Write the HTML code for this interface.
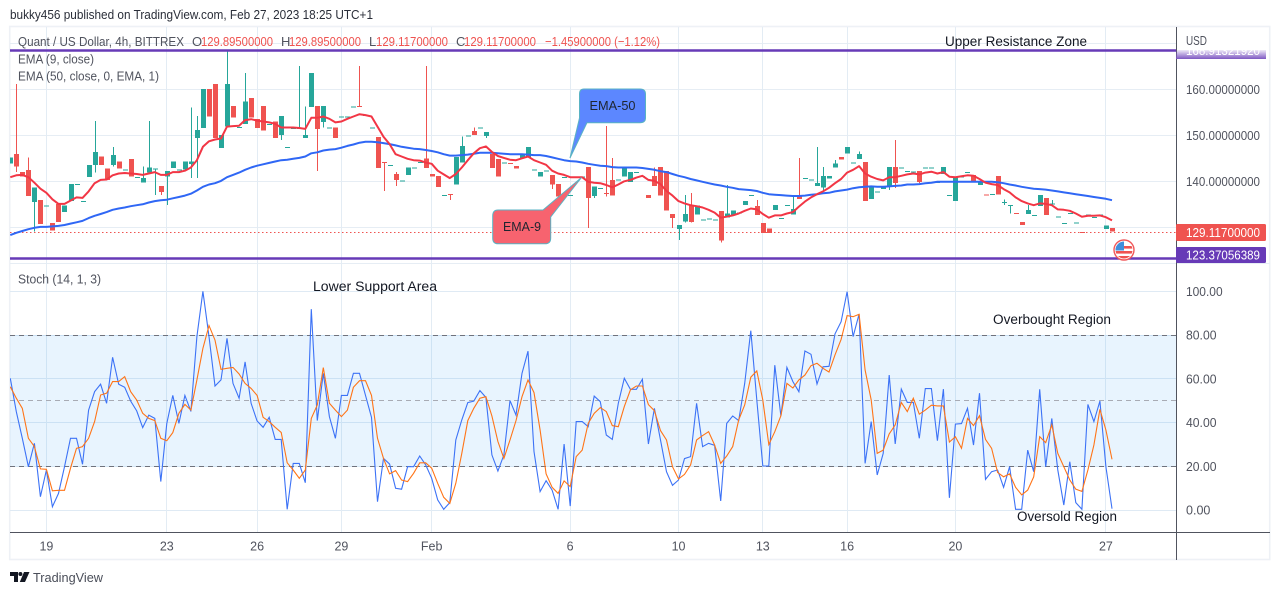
<!DOCTYPE html>
<html lang="en">
<head>
<meta charset="utf-8">
<title>Quant / US Dollar chart</title>
<style>
html,body{margin:0;padding:0;background:#fff;width:1280px;height:595px;overflow:hidden}
svg{display:block;font-family:"Liberation Sans",sans-serif}
</style>
</head>
<body>
<svg id="chart" xmlns="http://www.w3.org/2000/svg" width="1280" height="595" viewBox="0 0 1280 595">
  <defs>
    <clipPath id="plot-clip"><rect x="10" y="27" width="1166" height="505"/></clipPath>
    <clipPath id="top-label-clip"><rect x="1176" y="50" width="92" height="9"/></clipPath>
    <clipPath id="flag-clip"><circle cx="1124" cy="250" r="8.5"/></clipPath>
    <linearGradient id="top-label-fade" x1="0" y1="0" x2="0" y2="1">
      <stop offset="0" stop-color="#7e57c2" stop-opacity="0.12"/>
      <stop offset="1" stop-color="#7e57c2" stop-opacity="1"/>
    </linearGradient>
  </defs>

  <rect x="0" y="0" width="1280" height="595" fill="#fff"/>
  <text x="10" y="19" font-size="13" fill="#2a2e39" textLength="363" lengthAdjust="spacingAndGlyphs">bukky456 published on TradingView.com, Feb 27, 2023 18:25 UTC+1</text>
  <rect x="9.7" y="26.5" width="1260" height="533" fill="none" stroke="#eef1f6" stroke-width="1.6"/>

  <g id="grid"></g>
  <rect x="10" y="335" width="1166" height="131.5" fill="#2196f3" fill-opacity="0.1"/>
  <g id="stoch-levels"></g>

  <g clip-path="url(#plot-clip)">
    <line x1="10" y1="232.5" x2="1176" y2="232.5" stroke="#ef5350" stroke-width="1" stroke-dasharray="1.5 2.5"/>
    <g id="candles"></g>
    <polyline id="ema50" fill="none" stroke="#2f67f5" stroke-width="2" stroke-linejoin="round"/>
    <polyline id="ema9" fill="none" stroke="#f23645" stroke-width="2" stroke-linejoin="round"/>
    <polyline id="stochK" fill="none" stroke="#3c72f6" stroke-width="1.1"/>
    <polyline id="stochD" fill="none" stroke="#ff7417" stroke-width="1.1"/>
  </g>

  <line x1="10" y1="50.5" x2="1176" y2="50.5" stroke="#673ab7" stroke-width="2.6"/>
  <line x1="10" y1="258.5" x2="1176" y2="258.5" stroke="#673ab7" stroke-width="2.6"/>

  <g>
    <path d="M584 89 H640 Q645.5 89 645.5 94 V118 Q645.5 122.7 640 122.7 H587 L570 158 L579.5 118 V94 Q579.5 89 584 89 Z" fill="#5c87ff" stroke="#59b3c4" stroke-width="1"/>
    <text x="612.5" y="110" font-size="13" fill="#1e2530" text-anchor="middle" textLength="46" lengthAdjust="spacingAndGlyphs">EMA-50</text>
  </g>
  <g>
    <path d="M498 210 H543 L581.5 177.5 L550.7 217 V238 Q550.7 243.8 545 243.8 H498 Q492.7 243.8 492.7 238 V216 Q492.7 210 498 210 Z" fill="#f7636f" stroke="#59b3c4" stroke-width="1"/>
    <text x="522" y="231" font-size="13" fill="#1e2530" text-anchor="middle" textLength="38" lengthAdjust="spacingAndGlyphs">EMA-9</text>
  </g>

  <g font-size="13">
    <text x="18" y="46" fill="#50535e" textLength="166" lengthAdjust="spacingAndGlyphs">Quant / US Dollar, 4h, BITTREX</text>
    <text x="192" y="46" fill="#50535e">O</text>
    <text x="201" y="46" fill="#ef5350" textLength="72" lengthAdjust="spacingAndGlyphs">129.89500000</text>
    <text x="281" y="46" fill="#50535e">H</text>
    <text x="289" y="46" fill="#ef5350" textLength="72" lengthAdjust="spacingAndGlyphs">129.89500000</text>
    <text x="369" y="46" fill="#50535e">L</text>
    <text x="376" y="46" fill="#ef5350" textLength="72" lengthAdjust="spacingAndGlyphs">129.11700000</text>
    <text x="456" y="46" fill="#50535e">C</text>
    <text x="464" y="46" fill="#ef5350" textLength="72" lengthAdjust="spacingAndGlyphs">129.11700000</text>
    <text x="545" y="46" fill="#ef5350" textLength="115" lengthAdjust="spacingAndGlyphs">−1.45900000 (−1.12%)</text>
    <text x="18" y="63.5" fill="#50535e" textLength="76" lengthAdjust="spacingAndGlyphs">EMA (9, close)</text>
    <text x="18" y="80.5" fill="#50535e" textLength="141" lengthAdjust="spacingAndGlyphs">EMA (50, close, 0, EMA, 1)</text>
    <text x="18" y="283.5" fill="#50535e" textLength="83" lengthAdjust="spacingAndGlyphs">Stoch (14, 1, 3)</text>
  </g>

  <g font-size="13.5" fill="#131722">
    <text x="945" y="46" textLength="142" lengthAdjust="spacingAndGlyphs">Upper Resistance Zone</text>
    <text x="313" y="291" textLength="124" lengthAdjust="spacingAndGlyphs">Lower Support Area</text>
    <text x="993" y="324" textLength="118" lengthAdjust="spacingAndGlyphs">Overbought Region</text>
    <text x="1017" y="521" textLength="100" lengthAdjust="spacingAndGlyphs">Oversold Region</text>
  </g>

  <line x1="10" y1="532.5" x2="1270" y2="532.5" stroke="#50535e" stroke-width="1"/>
  <line x1="1176.5" y1="27" x2="1176.5" y2="560" stroke="#50535e" stroke-width="1"/>
  <g id="price-axis"></g>
  <g id="time-axis"></g>

  <text x="1186" y="45" font-size="12.5" fill="#50535e" textLength="21" lengthAdjust="spacingAndGlyphs">USD</text>

  <g>
    <rect x="1176" y="50" width="90" height="9" fill="url(#top-label-fade)"/>
    <g clip-path="url(#top-label-clip)">
      <text x="1186" y="55" font-size="12.5" fill="#fff" textLength="74" lengthAdjust="spacingAndGlyphs">168.91321920</text>
    </g>
  </g>
  <g>
    <rect x="1176" y="224" width="90" height="17" rx="1.5" fill="#ef5350"/>
    <text x="1186" y="237" font-size="12.5" fill="#fff" textLength="74" lengthAdjust="spacingAndGlyphs">129.11700000</text>
  </g>
  <g>
    <rect x="1176" y="247" width="90" height="16" rx="1.5" fill="#673ab7"/>
    <text x="1186" y="259.5" font-size="12.5" fill="#fff" textLength="74" lengthAdjust="spacingAndGlyphs">123.37056389</text>
  </g>

  <g>
    <circle cx="1124" cy="250" r="10" fill="#fff" stroke="#f0585a" stroke-width="1.4"/>
    <g clip-path="url(#flag-clip)">
      <rect x="1114" y="241" width="20" height="18" fill="#fff"/>
      <rect x="1114" y="246" width="20" height="2.6" fill="#ef5350"/>
      <rect x="1114" y="251" width="20" height="2.6" fill="#ef5350"/>
      <rect x="1114" y="256" width="20" height="3" fill="#ef5350"/>
      <rect x="1114" y="241" width="10" height="9.5" fill="#3f8fdc"/>
    </g>
  </g>

  <g>
    <g fill="#131722">
      <path d="M10 572 H18 V582 H14 V576 H10 Z"/>
      <circle cx="20.4" cy="574" r="2"/>
      <path d="M24 572 H29.5 L25 582 H19.8 Z"/>
    </g>
    <text x="33" y="582" font-size="13" fill="#4a4e59" textLength="70" lengthAdjust="spacingAndGlyphs">TradingView</text>
  </g>
</svg>

<script>
const opens = [
143.9,145.9,142,142.5,135.5,135.9,134.8,130.9,135.1,133.3,
135.7,139.4,135.7,140.9,143.5,145.4,142.8,143.5,144.3,142.6,
144.9,140.9,139.7,141.9,142.8,139,141,142.9,142.6,142.6,
143.8,149.4,151.6,160.1,161.2,147.2,151.9,156.4,151.8,152.5,
158.1,153.5,156.4,152.5,153,150.1,147.5,151.6,151.6,149.4,
156.2,156.4,152.9,151.7,151.7,154.1,154.1,156.3,156.4,154.4,
151.7,149.6,144.2,143.5,141.6,140.2,141.4,143,144.2,145,
141.6,141.2,137,137.2,139.3,144.1,150,150.9,151.7,149.9,
145.9,144.9,144.1,144,143.3,145,145.2,142.6,141,142.4,
141.4,139.4,140.9,137,141,141,143.1,136.8,138.6,137.5,
140.3,140.4,141,139.9,142,141.2,137,141.2,143.1,142.2,
132.9,129.6,131.3,134.8,132.8,131.7,131.9,131.7,133.6,132.1,
132.6,133.2,134.9,137,134.6,130.9,129.8,133.8,132,134.9,
132.8,137,140.7,140.4,139,138.7,140.6,143,145.3,146,
144.1,144.9,144.2,136.2,137.8,138.3,138.8,143.1,143,142.3,
142.1,142.2,143,143,139.9,141.6,137,135.7,141,142,
141.4,139.2,137.1,137.2,141.2,135.5,134.9,133.1,131.2,132.9,
132.7,134.6,136.4,135.2,132.4,130.9,133.1,131.1,129,132.8,
132.2,132.8,129.6,129.895];
const highs = [
145.2,161.2,142,145.2,138.7,135.9,134.8,130.9,135.1,134.8,
139.4,139.4,135.7,143.5,153.1,145.4,142.8,147.5,144.3,142.6,
144.9,140.9,143.2,153.1,142.8,139,142.2,144.3,142.6,144.3,
156.1,154.2,160.1,160.1,161.2,150.1,168.2,156.4,151.8,163.5,
158.1,153.5,156.4,152.5,153,154.2,147.5,151.6,165.1,156.3,
163.6,156.4,156.4,151.7,151.7,154.1,154.1,156.3,165.1,154.4,
151.7,149.6,144.2,143.5,142,140.2,143,143,144.2,165.1,
141.6,141.2,137,137.2,145.3,149.7,150,151.7,151.7,150.7,
145.9,144.9,144.1,144,143.3,145.9,147.5,142.6,142,142.4,
141.4,139.4,140.9,137,141,141,143.1,138.9,138.6,152,
145.1,140.4,143,142,142,141.2,137,143,143.1,142.2,
132.9,130.5,137,137.5,134.8,131.7,131.9,131.7,133.6,139.2,
133.7,133.2,135.7,137,135.9,130.9,129.8,134.9,132,134.9,
136.9,145.1,140.7,140.4,147.5,143.1,141.2,144.6,145.3,147.5,
144.1,146.5,144.2,138.7,137.8,138.9,143.1,149,143,142.3,
142.1,142.2,143,143,139.9,143.1,137,140.9,141,142,
141.4,139.9,137.1,137.2,141.2,136.1,134.9,133.1,131.2,134.9,
132.7,137,136.4,135.9,132.4,130.9,133.1,131.1,129,132.8,
132.2,132.8,130.4,129.895];
const lows = [
143.9,142,141,136.8,129.1,130.7,134.8,129.3,131.2,133.3,
135.7,139.4,135.7,140.9,141.9,143.5,140.3,143.2,142.8,142.6,
141,140.9,139.7,141.9,137,137,134.9,142.9,142.6,142.6,
140.7,140.7,151.6,154.1,149.4,147.2,151.9,153.9,151.8,152.5,
153.9,151.6,151,152.5,149.4,149,147.5,151.6,151.6,149.4,
156.2,142.2,151.7,151.7,149.4,154.1,154.1,156.3,156.3,154.4,
151.7,142.9,137.9,143.5,139,140.2,141.4,143,144.2,142.9,
141,138.8,137,135.9,139.3,144.1,150,150.1,151.7,149.4,
142.9,141,144.1,143.9,142.8,145,145.2,142.6,141,142.4,
138.3,136.7,140.9,137,141,141,129.9,136.4,138.6,136.7,
136.9,140.4,141,139.9,142,141.2,136.4,139,136.9,133.7,
129.9,127.2,131,131,132.8,131.7,131.9,131.7,126.7,132.1,
132.6,133.2,134.9,137,132.7,128.8,128.8,133.8,132,134.9,
132.8,136.2,140.7,140.4,139,138,140.6,143,144.7,146,
144.1,144.9,135.7,136.2,137.8,138.3,138.1,138.6,143,142.3,
142.1,139.6,143,143,139.9,141.6,137,135.7,141,142,
139.7,139.2,137,137.2,137.1,134.9,133,133,130.5,132.9,
132.7,134.6,132.7,135.2,132.4,130.9,133.1,131.1,128.9,132.8,
132.2,132.8,129.6,129.117];
const closes = [
145.2,143.2,141,136.8,138.7,130.7,134.8,129.3,131.2,134.8,
139.4,139.4,135.7,143.5,146.4,143.5,140.3,145.7,142.8,142.6,
141,140.9,140.7,143,142.8,137.7,142.2,144.3,142.6,144.3,
144.3,151.2,160.1,154.1,149.4,150.1,161.2,153.9,151.8,157.4,
153.9,151.6,151,152.5,149.4,154.2,147.5,151.6,151.6,150.1,
163.6,151.4,156.4,151.7,149.4,154.1,154.1,156.3,156.3,154.4,
151.7,142.9,144.1,143.5,140.3,140.2,143,143,144.2,142.9,
141,138.8,137,137.1,145.3,147.7,150,150.1,151.7,150.7,
142.9,141,144.1,143.9,142.8,145.9,147.5,142.6,142,142.4,
139.3,136.7,140.9,137,141,141,136.4,138.9,138.6,137.2,
136.9,140.4,143,142,142,141.2,136.4,139,136.9,133.7,
132,130.5,132.9,131.2,134.8,131.7,131.9,131.7,127.1,133,
133.7,133.2,135.7,137,132.7,128.8,128.8,134.9,132,134.9,
134,136.2,140.7,140.4,139.6,141.2,141.2,143.9,144.7,147.5,
144.1,145.9,135.7,138.7,137.8,138.9,143.1,139.6,143,142.3,
142.1,139.9,143,143,139.9,143.1,137,140.9,141,142,
139.7,139.9,137,137.2,137.1,135.5,134.9,133,130.5,133.8,
132.7,137,132.7,135.2,132.4,130.9,133.1,131.1,128.9,132.8,
132.2,132.8,130.4,129.117];
const ema9Values = [
140.9,141.3,141.4,140.9,139.7,138.4,137.5,136.1,135.1,135.1,
135.8,136.5,136.4,137.8,139.6,140.3,140.4,141.3,141.7,141.8,
141.7,141.6,141.4,141.7,142,141.4,141.4,142,142,142.3,
143,144.6,147.5,148.7,149.1,149.3,151.9,152,152.1,153.3,
153.5,153.2,153,152.8,152.5,151.7,151.7,151.7,151.6,151.4,
153.8,153.8,154.1,153.6,152.8,153,153.6,154.1,154.6,154.4,
154.1,151.9,149.7,148.1,145.9,145.4,144.9,144.6,144.5,144.1,
143.8,142.3,141.5,140.7,141.6,143,144.6,146.1,147.2,147.6,
146.4,145.5,145.1,144.7,144.6,145,145.4,144.6,144.1,143.6,
142.3,141.7,141.4,140.9,140.9,140.9,139.9,139.7,139.6,139.2,
138.7,139.3,140,140.3,140.8,141.2,140.3,140.1,139.4,137.9,
136.9,135.7,135.2,134.8,134.6,134.3,133.8,133.2,132.1,132.3,
132.6,133,133.6,134.1,133.9,132.9,132.1,132.6,132.6,133,
133.3,134.5,135.6,136.5,137.2,137.8,138.6,139.6,140.5,141.9,
142.5,143.3,141.7,141,140.5,140.2,140.9,140.9,141.2,141.5,
141.7,141.5,141.9,142.1,141.7,142,141,140.9,141.1,141.3,
141.2,140.5,139.7,139.4,139.2,138.3,137.6,136.5,135.7,135.2,
134.8,135.2,135.1,134.8,133.9,133.8,133.6,133,132.3,132.5,
132.5,132.6,132.2,131.5];
const ema50Values = [
128.3,128.8,129.2,129.6,129.9,130.1,130.1,130.2,130.3,130.5,
130.8,131.1,131.4,132,132.5,132.9,133.3,133.8,134.1,134.3,
134.6,134.8,135,135.4,135.7,135.9,136,136.3,136.6,136.9,
137.3,138,138.8,139.3,139.6,140.1,140.9,141.4,141.9,142.5,
143,143.4,143.7,144,144.3,144.6,144.7,144.9,145.1,145.4,
146.1,146.3,146.7,146.9,147,147.3,147.7,148,148.4,148.6,
148.6,148.5,148.3,148.1,147.8,147.5,147.3,147.1,147,146.8,
146.6,146.3,145.9,145.6,145.6,145.7,145.8,146,146.2,146.2,
146.2,146.1,146,145.9,145.9,145.9,145.8,145.7,145.7,145.5,
145.2,144.9,144.6,144.4,144.3,144.1,143.8,143.6,143.4,143.3,
143.1,143,143,143,143,142.9,142.7,142.5,142.2,142,
141.6,141.2,140.9,140.5,140.2,139.9,139.6,139.3,139.1,138.8,
138.6,138.3,138.2,138.1,137.9,137.5,137.2,137.1,137,136.9,
136.8,136.8,136.9,137.1,137.2,137.4,137.5,137.8,138,138.2,
138.5,138.7,138.8,138.9,138.8,138.8,138.9,139,139.1,139.3,
139.3,139.4,139.6,139.7,139.9,139.9,139.9,139.9,139.9,139.9,
139.9,139.9,139.9,139.9,139.8,139.6,139.3,139.1,138.8,138.6,
138.4,138.3,138.2,138,137.8,137.6,137.4,137.2,137,136.8,
136.6,136.4,136.2,135.9];
const stochKValues = [
60.2,45,32.8,19.8,30.5,6.1,18.3,1.5,7.6,19.8,
32.8,32.8,20.9,45.7,54.1,57.5,48.8,69.8,57.5,56.1,
49.8,45.3,37.7,43.4,41.9,13,39.6,52.4,39.6,52.4,
45.1,79.3,100,79.3,56.7,59.5,78.5,57.9,51.1,67.7,
48.8,40.7,37.8,42.4,32.3,32.3,0.3,21.3,21.3,12.5,
91.8,40.9,62.5,42.7,32.8,52.4,52.4,62.5,62.5,52.4,
42.4,3.8,23.6,21,9.9,9.5,19.8,19.8,24.7,20.6,
14.5,4.6,0.3,3.4,32,41.2,49.1,49.8,54.6,51.5,
25.2,17.8,25.2,50,43.4,62.5,72.6,26.7,8.4,13.4,
9.1,0.3,30.2,1.8,40.4,40.4,38.1,52.1,49.5,34.3,
32.3,48.8,60.2,55.2,55.2,59.8,30.2,46.5,32,17.5,
11.3,13.7,23.5,24.4,48.8,29,30.5,29.6,4.1,39.6,
43,40.9,57.9,82,50.3,20.1,20.1,66.2,43,65.2,
58.7,54.1,72.7,71.2,57.6,65.5,65.7,80.5,86.1,99.8,
79.3,89.6,21.3,40.4,16,25.9,61.7,30.2,55.3,49.2,
49.2,32.8,55.5,55.5,31.7,55.3,5.6,39.3,39.5,46.5,
29.7,53.4,14,17.5,18.3,10.4,19.8,0.3,0.3,27.4,
17.5,55.2,19.8,41.9,18.3,2.3,22.1,3.4,0.3,48.3,
40.4,49.8,19.8,0.6];
const stochDValues = [
56.4,51.1,46.5,32.8,29,18.8,18.6,8.8,9,9,
19.1,28.2,29,32.8,40.4,52.6,53.4,58.7,58.7,61,
54.1,50.3,44.2,41.9,40.9,32.8,31.7,35.4,44.2,48.3,
45.7,59.5,73.9,84.3,77.7,64.3,64.8,65.2,62.2,57.9,
55.6,52.4,42.4,40.4,37.8,35.5,21.6,18.3,14.5,18.3,
41.9,48,65.1,48.8,45.7,42.7,45.7,56.1,59.1,59.1,
52.4,32.8,23.6,16.5,18,13.7,13,16.8,21.6,21.6,
19.1,12.2,5.8,3,12.2,25.9,40.9,46.5,51.1,51.8,
43,31.3,23.6,32,40.9,51.8,59.5,53.7,36.6,16.5,
10.4,7.6,13.3,10.7,24.4,27.4,39.6,44.2,46.8,45,
38.6,38.1,47.3,54.9,56.7,56.7,48.2,45.4,36.3,32,
19.8,14.2,16.3,20.6,32,34,35.8,29.7,21.3,24.7,
29,41.2,48,60.7,63.6,50.3,29.9,35.8,43.1,57.9,
55.8,59.5,61.7,66,67.1,64.8,63.1,70.9,78,88.9,
88.4,89.5,64,50.3,25.9,27.4,34.8,38.9,49.2,45,
51.1,43.8,45.7,47.9,47.6,47.6,31.1,33.5,28.2,41.9,
38.6,43.1,32.3,28.2,17.2,15.2,16.5,10.4,6.9,9.1,
15.2,33.5,30.8,38.9,25.9,19.8,13.7,9.5,8.5,18.3,
29.7,46,36.6,23.2];
const priceTicks = [130, 140, 150, 160, 170];
const priceTickLabels = ['', '140.00000000', '150.00000000', '160.00000000', ''];
const stochTicks = [0, 20, 40, 60, 80, 100];
const stochTickLabels = ['0.00', '20.00', '40.00', '60.00', '80.00', '100.00'];
const stochLevels = [20, 50, 80];
const timeTickBars = [6, 26, 41, 55, 70, 93, 111, 125, 139, 157, 182];
const timeTickLabels = ['19', '23', '26', '29', 'Feb', '6', '10', '13', '16', '20', '27'];

const NS = 'http://www.w3.org/2000/svg';
function barX(i) { return 10.3 + 6.02 * i; }
function priceY(p) { return 181.33 - (p - 140) * 4.6; }
function stochY(v) { return 510 - v * 2.187; }
function mk(tag, props) {
  const el = document.createElementNS(NS, tag);
  for (const k in props) el.setAttribute(k, props[k]);
  return el;
}
function crisp(v) { return Math.round(v - 0.5) + 0.5; }

const grid = document.getElementById('grid');
priceTicks.forEach(function (t, idx) {
  const y = crisp(priceY(t));
  const line = mk('line', {x1: 10, x2: 1176, y1: y, y2: y, stroke: '#e6edf4', 'stroke-width': 1});
  
  
  grid.appendChild(line);
  if (priceTickLabels[idx]) {
    const label = mk('text', {x: 1186, y: priceY(t) + 4.5, 'font-size': 12.5, fill: '#50535e', textLength: 74, lengthAdjust: 'spacingAndGlyphs'});
    label.textContent = priceTickLabels[idx];
    
    
    document.getElementById('price-axis').appendChild(label);
  }
});
stochTicks.forEach(function (t, idx) {
  const y = crisp(stochY(t));
  const line = mk('line', {x1: 10, x2: 1176, y1: y, y2: y, stroke: '#dfeaf4', 'stroke-width': 1});
  
  
  grid.appendChild(line);
  const label = mk('text', {x: 1186, y: stochY(t) + 4.5, 'font-size': 12.5, fill: '#50535e', textLength: stochTickLabels[idx].length * 6.1, lengthAdjust: 'spacingAndGlyphs'});
  label.textContent = stochTickLabels[idx];
  
  
  document.getElementById('price-axis').appendChild(label);
});
const paneLine = mk('line', {x1: 10, x2: 1270, y1: 263.5, y2: 263.5, stroke: '#e6edf4', 'stroke-width': 1});


grid.appendChild(paneLine);

timeTickBars.forEach(function (b, idx) {
  const x = crisp(barX(b));
  const line = mk('line', {x1: x, x2: x, y1: 27, y2: 532, stroke: '#e3ecf4', 'stroke-width': 1});
  
  
  grid.appendChild(line);
  const label = mk('text', {x: barX(b), y: 550.5, 'font-size': 12.5, fill: '#50535e', 'text-anchor': 'middle'});
  label.textContent = timeTickLabels[idx];
  
  
  document.getElementById('time-axis').appendChild(label);
});

stochLevels.forEach(function (lvl) {
  const y = crisp(stochY(lvl));
  const mid = lvl === 50;
  const line = mk('line', {x1: 10, x2: 1176, y1: y, y2: y, stroke: mid ? '#a8abb4' : '#6f727c', 'stroke-width': 1, 'stroke-dasharray': '5 4'});
  
  
  document.getElementById('stoch-levels').appendChild(line);
});

const candles = document.getElementById('candles');
opens.forEach(function (o, i) {
  const c = closes[i];
  const up = c >= o;
  const color = up ? '#26a69a' : '#ef5350';
  const x = Math.round(barX(i));
  const g = mk('g', {'shape-rendering': 'crispEdges'});
  
  
  const wick = mk('rect', {x: x, y: priceY(highs[i]), width: 1, height: Math.max(1, priceY(lows[i]) - priceY(highs[i])), fill: color});
  const top = priceY(Math.max(o, c));
  const bot = priceY(Math.min(o, c));
  const body = mk('rect', {x: x - 2, y: top, width: 5, height: Math.max(1, bot - top), fill: color});
  g.appendChild(wick);
  g.appendChild(body);
  candles.appendChild(g);
});

function setLine(id, values, yFn) {
  const pts = values.map(function (v, i) { return barX(i).toFixed(1) + ',' + yFn(v).toFixed(1); });
  document.getElementById(id).setAttribute('points', pts.join(' '));
}
setLine('ema50', ema50Values, priceY);
setLine('ema9', ema9Values, priceY);
setLine('stochK', stochKValues, stochY);
setLine('stochD', stochDValues, stochY);
</script>
</body>
</html>
